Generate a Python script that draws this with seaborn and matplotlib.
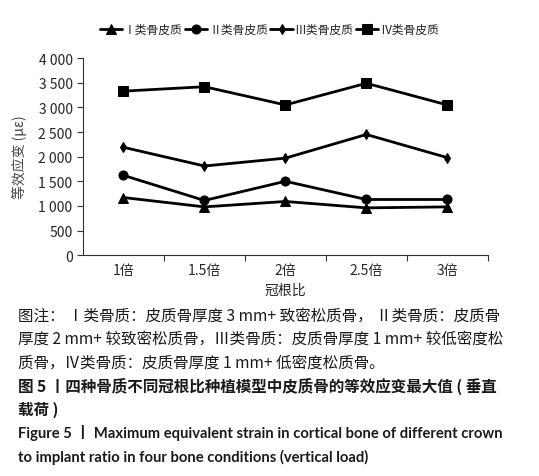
import seaborn as sns
import matplotlib.pyplot as plt
import matplotlib.ticker as mticker
import pandas as pd

sns.set_style('ticks')
plt.rcParams['font.family'] = ['Noto Sans CJK SC', 'DejaVu Sans']

# 数据
ratios = ['1倍', '1.5倍', '2倍', '2.5倍', '3倍']
series_names = ['Ⅰ类骨皮质', 'Ⅱ类骨皮质', 'Ⅲ类骨皮质', 'Ⅳ类骨皮质']
type_1 = [1170, 980, 1090, 960, 980]
type_2 = [1620, 1110, 1500, 1130, 1130]
type_3 = [2190, 1810, 1970, 2450, 1980]
type_4 = [3330, 3420, 3050, 3490, 3050]
markers = ['^', 'o', 'd', 's']

df = pd.DataFrame({
    'pos': list(range(len(ratios))) * 4,
    'strain': type_1 + type_2 + type_3 + type_4,
    'group': [n for n in series_names for _ in ratios],
})

fig = plt.figure(figsize=(5.39, 4.77), dpi=100)
ax = fig.add_axes([0.154, 0.463, 0.751, 0.413])

for name, m in zip(series_names, markers):
    sub = df[df['group'] == name]
    sns.lineplot(x='pos', y='strain', data=sub, ax=ax, color='black', lw=2,
                 marker=m, markersize=6.5 if m != 'd' else 5.5, markeredgecolor='black',
                 label=name)

ax.set_xlim(-0.5, 4.5)
ax.set_ylim(0, 4000)
ax.set_yticks(range(0, 4001, 500))
ax.yaxis.set_major_formatter(mticker.FuncFormatter(lambda v, p: f'{int(v):,}'.replace(',', ' ')))
ax.set_xticks([0.5, 1.5, 2.5, 3.5, 4.5])
ax.set_xticklabels([])
ax.set_xticks(range(len(ratios)), minor=True)
ax.set_xticklabels(ratios, minor=True)
ax.tick_params(axis='x', which='minor', length=0, pad=6)
ax.tick_params(axis='both', which='major', length=4, color='#333333')
ax.tick_params(labelsize=10)
for s in ['top', 'right']:
    ax.spines[s].set_visible(False)
ax.spines['left'].set_color('#333333')
ax.spines['bottom'].set_color('#333333')

ax.set_xlabel('冠根比', fontsize=10, labelpad=4)
ax.set_ylabel('等效应变 (με)', fontsize=10, color='#444444', labelpad=8)

leg = ax.legend(loc='lower center', bbox_to_anchor=(0.46, 1.06), ncol=4, frameon=False,
                fontsize=8.5, handlelength=1.9, handletextpad=0.15, columnspacing=0.2)

# 图注
cap = [
    ('图注： Ⅰ类骨质：皮质骨厚度 3 mm+ 致密松质骨， Ⅱ类骨质：皮质骨', 'normal'),
    ('厚度 2 mm+ 较致密松质骨，Ⅲ类骨质：皮质骨厚度 1 mm+ 较低密度松', 'normal'),
    ('质骨，Ⅳ类骨质：皮质骨厚度 1 mm+ 低密度松质骨。', 'normal'),
    ('图 5 丨四种骨质不同冠根比种植模型中皮质骨的等效应变最大值 ( 垂直', 'bold'),
    ('载荷 )', 'bold'),
]
y0 = 316
for i, (t, w) in enumerate(cap):
    fig.text(18 / 539, 1 - (y0 + i * 23.5) / 477, t, fontsize=11.2, fontweight=w,
             va='center', ha='left', color='#1a1a1a')

eng = [
    'Figure 5 丨 Maximum equivalent strain in cortical bone of different crown',
    'to implant ratio in four bone conditions (vertical load)',
]
for i, t in enumerate(eng):
    fig.text(18 / 539, 1 - (433 + i * 24) / 477, t, fontsize=10.6, fontweight='bold',
             va='center', ha='left', color='#1a1a1a',
             family=['Lato', 'Noto Sans CJK SC'])

fig.savefig('out.png', dpi=100)
